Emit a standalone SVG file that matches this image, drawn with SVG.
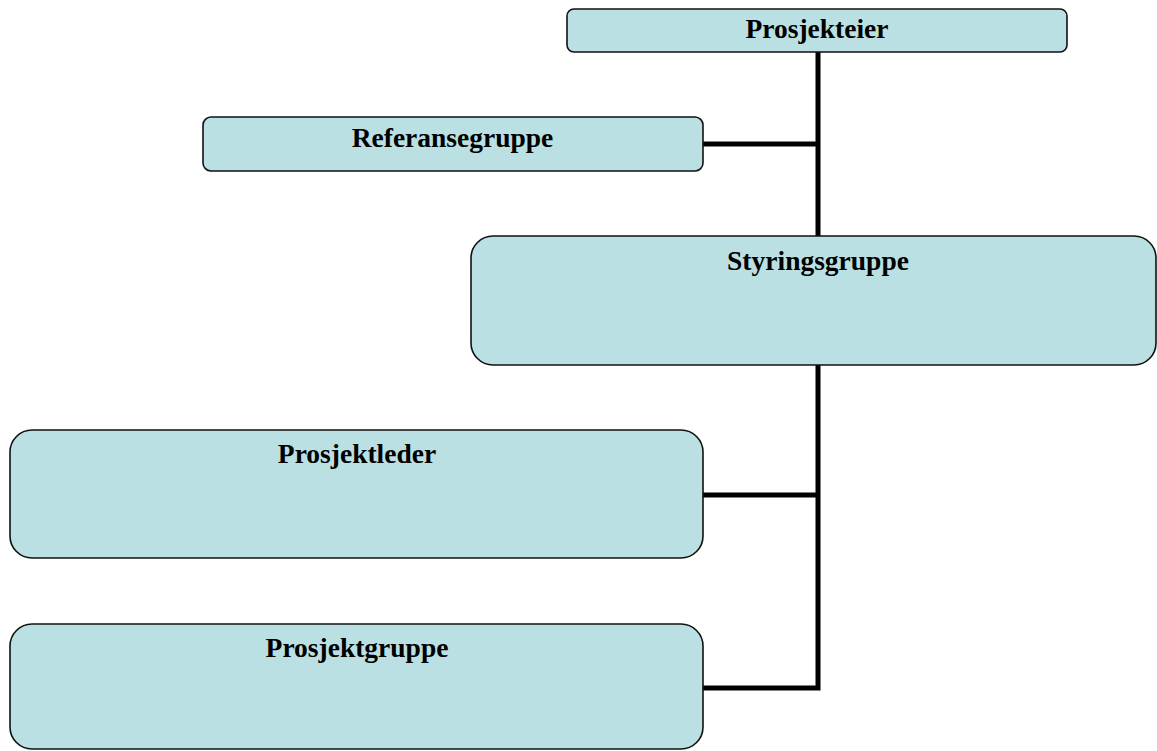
<svg xmlns="http://www.w3.org/2000/svg" width="1157" height="751" viewBox="0 0 1157 751">
<style>
.box{fill:#BBE0E3;stroke:#111;stroke-width:1.6}
.lbl{font-family:"Liberation Serif","Times New Roman",serif;font-weight:bold;font-size:27.5px;fill:#000;text-anchor:middle}
.con{fill:none;stroke:#000;stroke-width:5;stroke-linejoin:miter}
</style>
<rect width="1157" height="751" fill="#fff"/>
<g id="connectors">
<path class="con" d="M818,52 V236"/>
<path class="con" d="M703,144 H818"/>
<path class="con" d="M818,365 V688 H703"/>
<path class="con" d="M703,495 H818"/>
</g>
<g id="prosjekteier">
<rect class="box" x="567" y="9" width="500" height="43" rx="7"/>
<text class="lbl" x="817" y="38">Prosjekteier</text>
</g>
<g id="referansegruppe">
<rect class="box" x="203" y="117" width="500" height="54" rx="8"/>
<text class="lbl" x="452.5" y="147">Referansegruppe</text>
</g>
<g id="styringsgruppe">
<rect class="box" x="471" y="236" width="685" height="129" rx="22"/>
<text class="lbl" x="818" y="270">Styringsgruppe</text>
</g>
<g id="prosjektleder">
<rect class="box" x="10" y="430" width="693" height="128" rx="22"/>
<text class="lbl" x="357" y="463">Prosjektleder</text>
</g>
<g id="prosjektgruppe">
<rect class="box" x="10" y="624" width="693" height="125" rx="22"/>
<text class="lbl" x="357" y="657">Prosjektgruppe</text>
</g>
</svg>
